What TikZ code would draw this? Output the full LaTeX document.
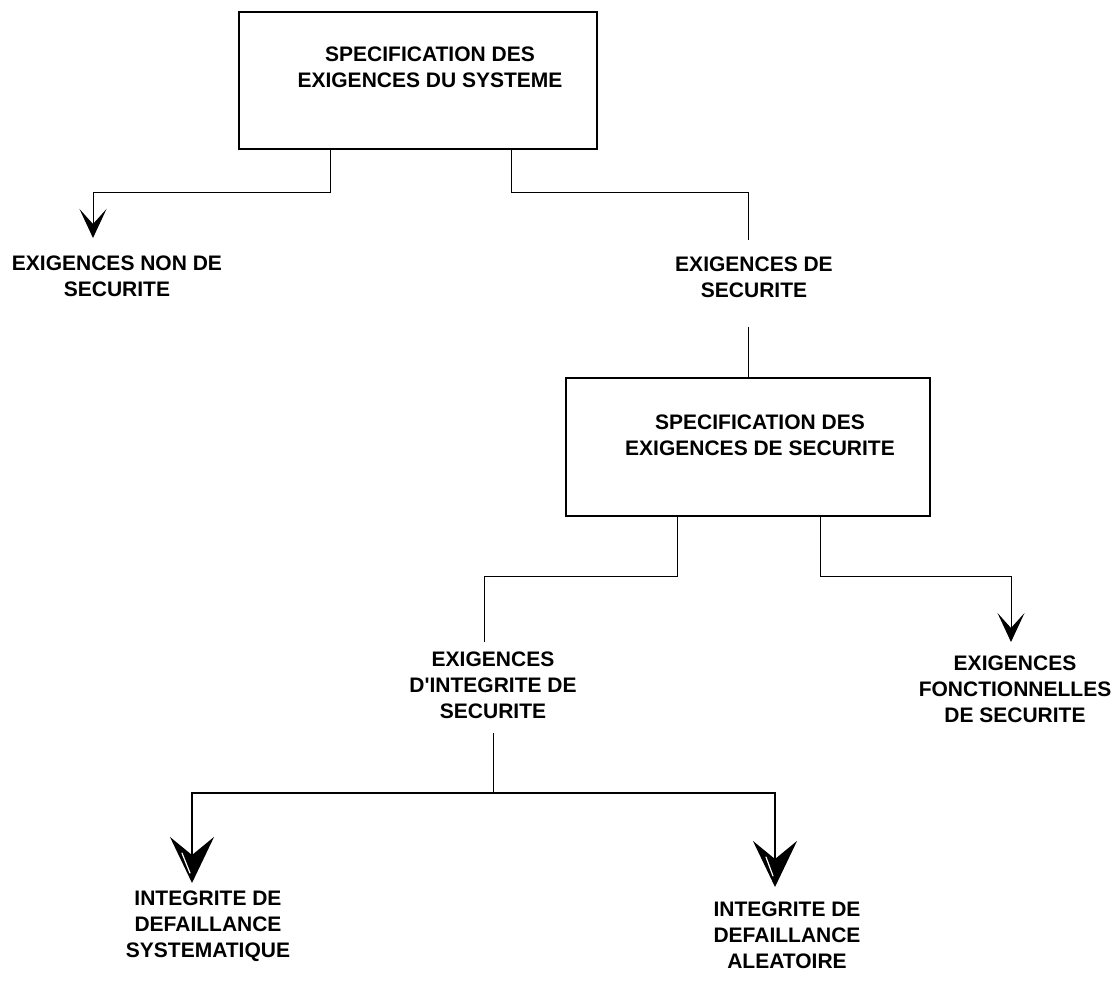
\documentclass[tikz,border=0pt]{standalone}
\usepackage{fontspec}
\setmainfont{Liberation Sans}
\usetikzlibrary{arrows.meta, positioning, calc}

\begin{document}
\begin{tikzpicture}[
    x=0.5pt, y=-0.5pt,
    every node/.append style={font=\fontsize{10.5}{13}\selectfont\bfseries,
      align=center, inner sep=0pt},
  ]

  \tikzset{
    specbox/.style={draw=black, line width=1.3pt, inner sep=0pt},
    link/.style={draw=black, line width=0.5pt},
    branch/.style={draw=black, line width=1pt},
    tip-small/.style={-{Stealth[length=14.5pt, width=13.5pt, inset=7.5pt]}},
    tip-big/.style={-{Stealth[length=23pt, width=22pt, inset=9pt]}},
    glint/.style={draw=white, line width=0.6pt, line cap=round},
  }

  \useasboundingbox (0,0) rectangle (1120,981);

  %% ---------------- SYSTEM LEVEL ----------------
  \node[specbox, minimum width=179pt, minimum height=68.5pt] (sysbox) at (418,80.5) {};
  \node (systxt) at (430,67) {SPECIFICATION DES\\EXIGENCES DU SYSTEME};
  % non-safety branch
  \node (nonsec) at (117,276) {EXIGENCES NON DE\\SECURITE};
  \coordinate (forkA) at (330,192);
  \coordinate (tipA) at (93,238);
  \draw[link, tip-small] (forkA |- sysbox.south) -- (forkA) -| (tipA);
  % safety branch
  \node (sec) at (754,277) {EXIGENCES DE\\SECURITE};
  \coordinate (forkB) at (511,192);
  \coordinate (endB) at (748,240);
  \draw[link] (forkB |- sysbox.south) -- (forkB) -| (endB);

  %% ---------------- SAFETY LEVEL ----------------
  \node[specbox, minimum width=182pt, minimum height=69pt] (secbox) at (748,447) {};
  \node (sectxt) at (760,435.5) {SPECIFICATION DES\\EXIGENCES DE SECURITE};
  \coordinate (startC) at (748,327);
  \draw[link] (startC) -- (secbox.north);
  % integrity branch
  \node (integ) at (493,685.5) {EXIGENCES\\D\textquotesingle INTEGRITE DE\\SECURITE};
  \coordinate (forkD) at (677,576);
  \coordinate (endD) at (484,642);
  \draw[link] (forkD |- secbox.south) -- (forkD) -| (endD);
  % functional branch
  \node (fonct) at (1015,689.5) {EXIGENCES\\FONCTIONNELLES\\DE SECURITE};
  \coordinate (forkE) at (820,576);
  \coordinate (tipE) at (1011,642);
  \draw[link, tip-small] (forkE |- secbox.south) -- (forkE) -| (tipE);

  %% ---------------- INTEGRITY LEVEL ----------------
  \node (syst) at (208,926.5) {INTEGRITE DE\\DEFAILLANCE\\SYSTEMATIQUE};
  \node (alea) at (787,935.5) {INTEGRITE DE\\DEFAILLANCE\\ALEATOIRE};
  \coordinate (stemF) at (493,733);
  \coordinate (forkF) at (493,793);
  \coordinate (tipG) at (192,883);
  \coordinate (tipH) at (775,887);
  \draw[link] (stemF) -- (forkF);
  \draw[branch, tip-big] (forkF) -| (tipG);
  \draw[branch, tip-big] (forkF) -| (tipH);
  % highlights on the big heads
  \draw[glint] ($(tipG)+(-10,-30)$) -- ($(tipG)+(-2,-10)$);
  \draw[glint] ($(tipH)+(-9,-30)$) -- ($(tipH)+(-2,-11)$);

\end{tikzpicture}
\end{document}
